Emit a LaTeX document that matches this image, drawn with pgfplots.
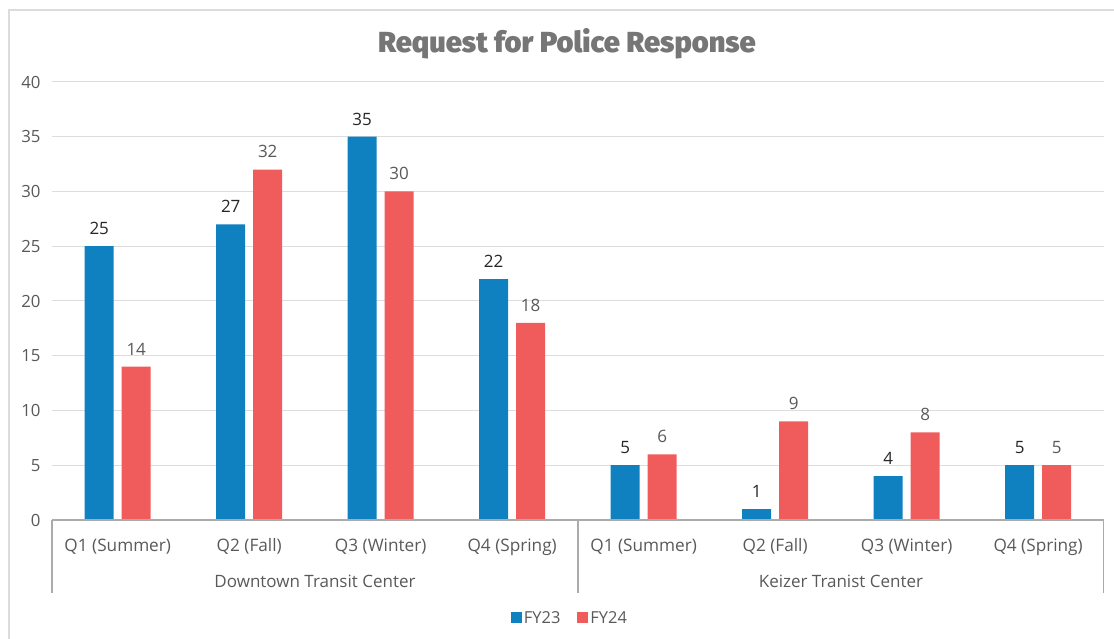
\documentclass[border=0pt]{standalone}
\usepackage{pgfplots}
\pgfplotsset{compat=1.18}
\usepackage{fontspec}
\setmainfont{Open Sans}
\newfontfamily\titlefont{Fira Sans Black}

\definecolor{fyblue}{HTML}{0F80C0}
\definecolor{fyred}{HTML}{F05C5C}
\definecolor{gridgray}{HTML}{DDDDDD}
\definecolor{axisgray}{HTML}{ABABAB}
\definecolor{framegray}{HTML}{DCDCDC}
\definecolor{labelgray}{HTML}{595959}
\definecolor{darklabel}{HTML}{262626}
\definecolor{titlegray}{HTML}{767676}

\begin{document}
\begin{tikzpicture}
\begin{axis}[
  scale only axis, width=1052pt, height=438pt,
  xmin=0, xmax=8, ymin=0, ymax=40,
  axis line style={draw=none},
  major tick length=0pt,
  ytick={0,5,...,40},
  ymajorgrids, grid style={gridgray, line width=1pt},
  xtick={0.5,1.5,...,7.5},
  xticklabels={Q1 (Summer),Q2 (Fall),Q3 (Winter),Q4 (Spring),Q1 (Summer),Q2 (Fall),Q3 (Winter),Q4 (Spring)},
  xticklabel style={anchor=base, yshift=-32pt, text=labelgray, font=\fontsize{17.2}{21}\selectfont},
  yticklabel style={xshift=-8pt, text=labelgray, font=\fontsize{16.8}{20}\selectfont},
  /pgf/number format/assume math mode=true,
  ybar=8pt, bar width=29pt,
  nodes near coords,
  every node near coord/.append style={font=\fontsize{17}{20}\selectfont, yshift=8pt},
  legend columns=2,
  legend style={at={(0.4924,-0.2237)}, anchor=center, draw=none, fill=none,
    font=\fontsize{16.5}{19}\selectfont, text=labelgray,
    /tikz/every even column/.append style={column sep=15pt}},
  legend image code/.code={\fill[#1] (0pt,-5.5pt) rectangle (11pt,5.5pt);},
  clip=false,
]
\addplot[fill=fyblue, draw=none, every node near coord/.append style={text=darklabel}]
  coordinates {(0.5,25) (1.5,27) (2.5,35) (3.5,22) (4.5,5) (5.5,1) (6.5,4) (7.5,5)};
\addlegendentry{FY23}
\addplot[fill=fyred, draw=none, every node near coord/.append style={text=labelgray}]
  coordinates {(0.5,14) (1.5,32) (2.5,30) (3.5,18) (4.5,6) (5.5,9) (6.5,8) (7.5,5)};
\addlegendentry{FY24}

% category axis with group separators
\draw[axisgray, line width=1.2pt] (axis cs:0,0) -- (axis cs:8,0);
\draw[axisgray, line width=1.2pt] (axis cs:0,0) -- ++(0pt,-73pt);
\draw[axisgray, line width=1.2pt] (axis cs:4,0) -- ++(0pt,-73pt);
\draw[axisgray, line width=1.2pt] (axis cs:8,0) -- ++(0pt,-73pt);
\node[anchor=base, text=labelgray, font=\fontsize{17}{20}\selectfont] at ([yshift=-68pt]axis cs:2,0) {Downtown Transit Center};
\node[anchor=base, text=labelgray, font=\fontsize{17}{20}\selectfont] at ([yshift=-68pt]axis cs:6,0) {Keizer Tranist Center};
\end{axis}
% title and chart frame, placed from the axis' lower-left corner
\node[font=\titlefont\fontsize{29}{34}\selectfont, text=titlegray] at (515pt,476pt) {Request for Police Response};
\pgfresetboundingbox
\useasboundingbox (-52pt,-119pt) rectangle (1062pt,520pt);
\begin{scope}
\clip (-52pt,-119pt) rectangle (1062pt,520pt);
\draw[framegray, line width=1.2pt] (-43pt,510pt) rectangle (1100pt,-150pt);
\end{scope}
\end{tikzpicture}
\end{document}
